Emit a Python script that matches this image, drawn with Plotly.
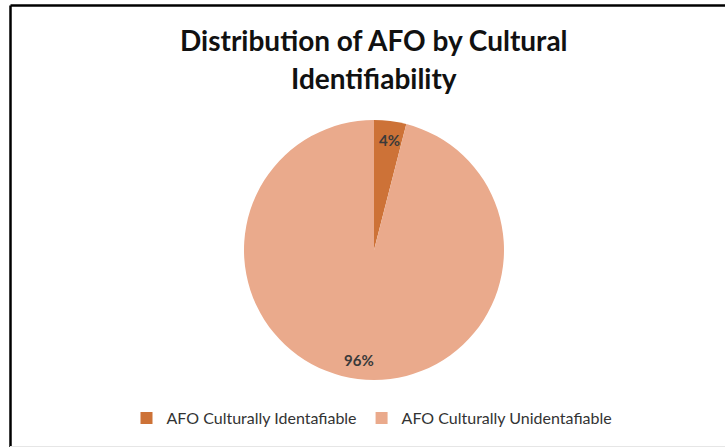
import math
import plotly.graph_objects as go

labels = ["AFO Culturally Identafiable", "AFO Culturally Unidentafiable"]
values = [4, 96]
colors = ["#CD7237", "#EAAA8C"]
title_lines = ["Distribution of AFO by Cultural", "Identifiability"]

W, H = 725, 447
cx, cy, R = 374, 250, 130  # pie center / radius in pixels

dom_x = [(cx - R) / W, (cx + R) / W]
dom_y = [1 - (cy + R) / H, 1 - (cy - R) / H]

fig = go.Figure(go.Pie(
    labels=labels, values=values, sort=False, direction="clockwise", rotation=0,
    marker=dict(colors=colors, line=dict(width=0)),
    textinfo="none", hoverinfo="label+percent",
    domain=dict(x=dom_x, y=dom_y),
))

annotations = []
total = sum(values)
start = 0.0
for v in values:
    frac = v / total
    mid = (start + frac / 2) * 2 * math.pi
    start += frac
    r = 0.94 * R
    px = cx + r * math.sin(mid)
    py = cy - r * math.cos(mid)
    annotations.append(dict(
        x=px / W, y=1 - py / H, xref="paper", yref="paper",
        text=f"{round(frac * 100)}%", showarrow=False,
        font=dict(family="Lato", size=15, color="#3a3a3a", weight="bold"),
    ))

for i, line in enumerate(title_lines):
    annotations.append(dict(
        x=374 / W, y=1 - (40 + i * 38) / H, xref="paper", yref="paper",
        text=f"<b>{line}</b>", showarrow=False, xanchor="center", yanchor="middle",
        font=dict(family="Lato", size=28, color="#111111"),
    ))

shapes = [
    dict(type="line", xref="paper", yref="paper", x0=10.5 / W, x1=1, y0=1 - 5.5 / H, y1=1 - 5.5 / H,
         line=dict(color="black", width=2.5)),
    dict(type="line", xref="paper", yref="paper", x0=10.5 / W, x1=10.5 / W, y0=0, y1=1 - 5.5 / H,
         line=dict(color="black", width=2.5)),
    dict(type="line", xref="paper", yref="paper", x0=10 / W, x1=1, y0=0.5 / H, y1=0.5 / H,
         line=dict(color="#e6e6e6", width=1)),
]

fig.update_layout(
    width=W, height=H,
    margin=dict(l=0, r=0, t=0, b=0),
    paper_bgcolor="white", plot_bgcolor="white",
    showlegend=True,
    legend=dict(orientation="h", x=372 / W, xanchor="center", y=1 - 418 / H, yanchor="middle",
                font=dict(family="Lato", size=16, color="#333333"),
                itemwidth=30, tracegroupgap=0),
    annotations=annotations,
    shapes=shapes,
)

fig.write_html("out.html")
